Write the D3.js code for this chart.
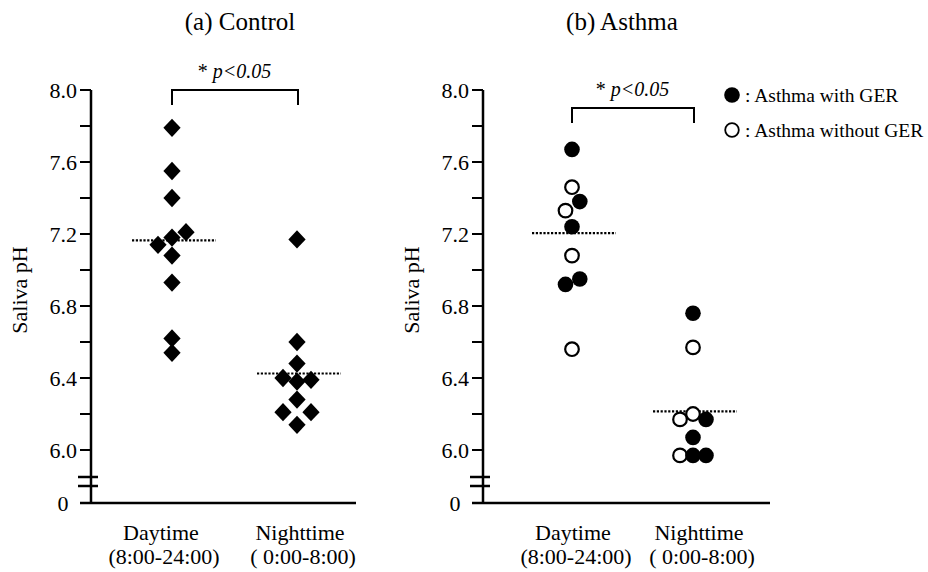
<!DOCTYPE html>
<html>
<head>
<meta charset="utf-8">
<script src="https://cdn.jsdelivr.net/npm/d3@7"></script>
<style>
  body { margin: 0; background: #fff; }
</style>
</head>
<body>
<svg id="chart" width="928" height="572" font-family="'Liberation Serif', 'Times New Roman', Times, serif"></svg>
<script>
// categories + tick labels
var categories = ["Daytime", "Nighttime"];
var catSub = ["(8:00-24:00)", "( 0:00-8:00)"];
var yTicks = [6.0, 6.4, 6.8, 7.2, 7.6, 8.0];
var yMinor = [6.2, 6.6, 7.0, 7.4, 7.8];

// (a) control - saliva pH
var controlDay = [7.79, 7.55, 7.40, 7.21, 7.18, 7.14, 7.08, 6.93, 6.62, 6.54];
var controlDayDodge = [0, 0, 0, 1, 0, -1, 0, 0, 0, 0];
var controlNight = [7.17, 6.60, 6.48, 6.40, 6.38, 6.39, 6.28, 6.21, 6.21, 6.14];
var controlNightDodge = [0, 0, 0, -1, 0, 1, 0, -1, 1, 0];
var controlMeans = [7.165, 6.425];

// (b) asthma - saliva pH, ger 1 = with GER
var asthmaDay = [7.67, 7.46, 7.38, 7.33, 7.24, 7.08, 6.95, 6.92, 6.56];
var asthmaDayGer = [1, 0, 1, 0, 1, 0, 1, 1, 0];
var asthmaDayDodge = [0, 0, 0.6, -0.5, 0, 0, 0.6, -0.5, 0];
var asthmaNight = [6.76, 6.57, 6.20, 6.17, 6.17, 6.07, 5.97, 5.97, 5.97];
var asthmaNightGer = [1, 0, 0, 0, 1, 1, 0, 1, 1];
var asthmaNightDodge = [0, 0, 0, -1, 1, 0, -1, 0, 1];
var asthmaMeans = [7.205, 6.215];

var FONT = "'Liberation Serif', 'Times New Roman', Times, serif";
var svg = d3.select("#chart");

var y = d3.scaleLinear().domain([6.0, 8.0]).range([450, 90]);
var yZero = 503;

function txt(g) {
    return g.append("text").attr("font-family", FONT).attr("fill", "#000");
}

function drawPanel(p) {
    var g = svg.append("g");
    var x = d3.scalePoint().domain(categories).range(p.xr);

    // title
    txt(g).attr("x", p.titleX).attr("y", 30)
        .attr("text-anchor", "middle")
        .attr("font-size", 25)
        .text(p.title);

    // y axis line + x axis line
    g.append("line")
        .attr("x1", p.ax).attr("x2", p.ax)
        .attr("y1", y(8.0)).attr("y2", yZero)
        .attr("stroke", "#000").attr("stroke-width", 2.5);
    g.append("line")
        .attr("x1", p.ax - 11).attr("x2", p.axEnd)
        .attr("y1", yZero).attr("y2", yZero)
        .attr("stroke", "#000").attr("stroke-width", 2.5);

    // ticks
    g.selectAll("line.tick")
        .data(yTicks.concat(yMinor))
        .enter().append("line")
        .attr("x1", p.ax - 11).attr("x2", p.ax)
        .attr("y1", function(d) { return y(d); })
        .attr("y2", function(d) { return y(d); })
        .attr("stroke", "#000").attr("stroke-width", 2);
    yTicks.forEach(function(d) {
        txt(g).attr("x", p.ax - 14)
            .attr("y", y(d))
            .attr("dy", "0.35em")
            .attr("text-anchor", "end")
            .attr("font-size", 22)
            .text(d.toFixed(1));
    });
    txt(g).attr("x", p.ax - 28).attr("y", yZero)
        .attr("dy", "0.35em")
        .attr("text-anchor", "middle")
        .attr("font-size", 22)
        .text("0");

    // axis break marks
    [477, 486].forEach(function(by) {
        g.append("line")
            .attr("x1", p.ax - 13).attr("x2", p.ax + 7)
            .attr("y1", by).attr("y2", by)
            .attr("stroke", "#000").attr("stroke-width", 2.5);
    });

    // y label
    txt(g).attr("transform", "translate(" + (p.ax - 64) + "," + 290 + ") rotate(-90)")
        .attr("text-anchor", "middle")
        .attr("font-size", 22)
        .text("Saliva pH");

    // x labels
    categories.forEach(function(c, i) {
        var cx = x(c) + p.labShift[i];
        txt(g).attr("x", cx).attr("y", 540)
            .attr("text-anchor", "middle")
            .attr("font-size", 22)
            .text(c);
        txt(g).attr("x", cx + 3).attr("y", 564)
            .attr("text-anchor", "middle")
            .attr("font-size", 22)
            .text(catSub[i]);
    });

    // significance bracket
    var bt = y(p.bracket);
    g.append("path")
        .attr("d", "M" + x(categories[0]) + "," + (bt + 15) + "V" + bt +
                   "H" + (x(categories[1]) + 1) + "V" + (bt + 15))
        .attr("fill", "none").attr("stroke", "#000").attr("stroke-width", 2);
    var st = txt(g)
        .attr("x", (x(categories[0]) + x(categories[1])) / 2)
        .attr("y", bt - 12)
        .attr("text-anchor", "middle")
        .attr("font-size", 20);
    st.append("tspan").text("* ");
    st.append("tspan").attr("font-style", "italic").text("p<0.05");

    // mean lines
    g.selectAll("line.mean")
        .data(p.means)
        .enter().append("line")
        .attr("x1", function(d, i) { return x(categories[i]) - 40; })
        .attr("x2", function(d, i) { return x(categories[i]) + 44; })
        .attr("y1", function(d) { return y(d); })
        .attr("y2", function(d) { return y(d); })
        .attr("stroke", "#000").attr("stroke-width", 2.2)
        .attr("stroke-dasharray", "2.2,1.6");

    return { g: g, x: x };
}

// panel (a)
var pa = drawPanel({
    title: "(a) Control", titleX: 240, ax: 91, axEnd: 356,
    xr: [172, 297], labShift: [-11, 3], bracket: 8.0, means: controlMeans
});
var diamond = d3.symbol().type(d3.symbolDiamond2).size(190);
function ctrlPoints(vals, dodge, cat) {
    pa.g.selectAll(null)
        .data(vals)
        .enter().append("path")
        .attr("d", diamond)
        .attr("transform", function(d, i) {
            return "translate(" + (pa.x(cat) + dodge[i] * 14) + "," + y(d) + ") scale(1,1.06)";
        })
        .attr("fill", "#000");
}
ctrlPoints(controlDay, controlDayDodge, categories[0]);
ctrlPoints(controlNight, controlNightDodge, categories[1]);

// panel (b)
var pb = drawPanel({
    title: "(b) Asthma", titleX: 622, ax: 483, axEnd: 770,
    xr: [572, 693], labShift: [1, 6], bracket: 7.9, means: asthmaMeans
});
function asthmaPoints(vals, ger, dodge, cat) {
    pb.g.selectAll(null)
        .data(vals)
        .enter().append("circle")
        .attr("cx", function(d, i) { return pb.x(cat) + dodge[i] * 13; })
        .attr("cy", function(d) { return y(d); })
        .attr("r", function(d, i) { return ger[i] ? 7.8 : 6.8; })
        .attr("fill", function(d, i) { return ger[i] ? "#000" : "#fff"; })
        .attr("stroke", "#000")
        .attr("stroke-width", function(d, i) { return ger[i] ? 0 : 2.2; });
}
asthmaPoints(asthmaDay, asthmaDayGer, asthmaDayDodge, categories[0]);
asthmaPoints(asthmaNight, asthmaNightGer, asthmaNightDodge, categories[1]);

// legend
var legendItems = [": Asthma with GER", ": Asthma without GER"];
var lg = svg.append("g");
lg.selectAll("circle")
    .data(legendItems)
    .enter().append("circle")
    .attr("cx", 732)
    .attr("cy", function(d, i) { return 95 + i * 35; })
    .attr("r", function(d, i) { return i === 0 ? 7.8 : 6.8; })
    .attr("fill", function(d, i) { return i === 0 ? "#000" : "#fff"; })
    .attr("stroke", "#000")
    .attr("stroke-width", function(d, i) { return i === 0 ? 0 : 1.8; });
legendItems.forEach(function(d, i) {
    txt(lg).attr("x", 745)
        .attr("y", 95 + i * 35)
        .attr("dy", "0.35em")
        .attr("font-size", 19.5)
        .text(d);
});
</script>
</body>
</html>
